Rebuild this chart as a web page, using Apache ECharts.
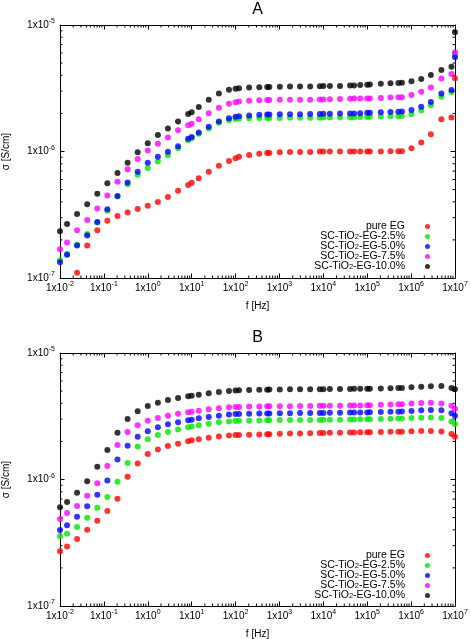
<!DOCTYPE html>
<html><head><meta charset="utf-8">
<script src="https://cdn.jsdelivr.net/npm/echarts@6/dist/echarts.min.js"></script>
<style>html,body{margin:0;padding:0;background:#fff}#c{width:471px;height:639px}</style>
</head><body><div id="c"></div>
<script>
// Frequencies (Hz), shared by all series in both panels
const FREQ = [0.01, 0.0145, 0.0245, 0.0417, 0.0708, 0.12, 0.204, 0.347, 0.589, 1, 1.7, 2.88, 4.9, 8.32, 10, 14.5, 24.5, 41.7, 70.8, 100, 120, 204, 347, 525, 589, 1020, 1740, 2950, 5010, 8320, 10000, 14100, 24000, 40700, 50100, 69200, 100000, 115000, 204000, 339000, 513000, 617000, 1.02e6, 1.7e6, 2.82e6, 4.9e6, 8.32e6, 1.0e7];

const SERIES_NAMES = ['pure EG', 'SC-TiO2-EG-2.5%', 'SC-TiO2-EG-5.0%', 'SC-TiO2-EG-7.5%', 'SC-TiO2-EG-10.0%'];
const SERIES_COLORS = ['#ff0000', '#00e600', '#0000ff', '#ff00ff', '#000000'];

// Panel A (sigma, S/cm)
const A_PURE = [null, null, 1.1e-7, 1.81e-7, 2.39e-7, 2.84e-7, 3.09e-7, 3.3e-7, 3.51e-7, 3.72e-7, 3.99e-7, 4.37e-7, 4.9e-7, 5.43e-7, 5.66e-7, 6.14e-7, 6.92e-7, 7.72e-7, 8.41e-7, 8.83e-7, 9.1e-7, 9.37e-7, 9.6e-7, 9.72e-7, 9.72e-7, 9.86e-7, 9.9e-7, 9.9e-7, 9.9e-7, 1.0e-6, 1.0e-6, 1.0e-6, 1.0e-6, 1.0e-6, 1.0e-6, 1.0e-6, 1.0e-6, 1.0e-6, 1.0e-6, 1.005e-6, 1.005e-6, 1.005e-6, 1.06e-6, 1.18e-6, 1.37e-6, 1.8e-6, 1.86e-6, 3.79e-6];
const A_25 = [1.38e-7, 1.55e-7, 1.83e-7, 2.23e-7, 2.75e-7, 3.4e-7, 4.4e-7, 5.5e-7, 6.55e-7, 7.41e-7, 8.35e-7, 9.33e-7, 1.06e-6, 1.23e-6, 1.27e-6, 1.38e-6, 1.52e-6, 1.69e-6, 1.77e-6, 1.81e-6, 1.82e-6, 1.83e-6, 1.84e-6, 1.84e-6, 1.84e-6, 1.84e-6, 1.85e-6, 1.85e-6, 1.85e-6, 1.85e-6, 1.86e-6, 1.86e-6, 1.86e-6, 1.86e-6, 1.86e-6, 1.87e-6, 1.87e-6, 1.88e-6, 1.89e-6, 1.9e-6, 1.9e-6, 1.91e-6, 1.97e-6, 2.11e-6, 2.32e-6, 2.71e-6, 2.95e-6, 5.8e-6];
const A_50 = [1.33e-7, 1.53e-7, 1.81e-7, 2.17e-7, 2.77e-7, 3.49e-7, 4.45e-7, 5.7e-7, 6.92e-7, 8.15e-7, 9.1e-7, 9.96e-7, 1.1e-6, 1.26e-6, 1.3e-6, 1.41e-6, 1.57e-6, 1.73e-6, 1.83e-6, 1.88e-6, 1.9e-6, 1.93e-6, 1.95e-6, 1.96e-6, 1.96e-6, 1.97e-6, 1.97e-6, 1.97e-6, 1.98e-6, 1.98e-6, 1.99e-6, 1.99e-6, 2.0e-6, 2.0e-6, 2.0e-6, 2.01e-6, 2.02e-6, 2.02e-6, 2.04e-6, 2.05e-6, 2.06e-6, 2.07e-6, 2.13e-6, 2.26e-6, 2.46e-6, 2.88e-6, 3.06e-6, 5.55e-6];
const A_75 = [1.69e-7, 1.91e-7, 2.38e-7, 2.87e-7, 3.55e-7, 4.48e-7, 5.77e-7, 7.23e-7, 8.72e-7, 1.02e-6, 1.15e-6, 1.29e-6, 1.47e-6, 1.61e-6, 1.66e-6, 1.8e-6, 2.01e-6, 2.22e-6, 2.39e-6, 2.45e-6, 2.48e-6, 2.52e-6, 2.54e-6, 2.55e-6, 2.55e-6, 2.56e-6, 2.56e-6, 2.57e-6, 2.57e-6, 2.58e-6, 2.58e-6, 2.59e-6, 2.6e-6, 2.61e-6, 2.62e-6, 2.62e-6, 2.63e-6, 2.63e-6, 2.65e-6, 2.67e-6, 2.68e-6, 2.69e-6, 2.8e-6, 2.97e-6, 3.21e-6, 3.77e-6, 4.1e-6, 6.08e-6];
const A_100 = [2.34e-7, 2.67e-7, 3.2e-7, 3.83e-7, 4.64e-7, 5.6e-7, 6.76e-7, 8.15e-7, 9.86e-7, 1.16e-6, 1.35e-6, 1.52e-6, 1.73e-6, 1.98e-6, 2.04e-6, 2.25e-6, 2.57e-6, 2.87e-6, 3.08e-6, 3.13e-6, 3.16e-6, 3.2e-6, 3.22e-6, 3.24e-6, 3.24e-6, 3.25e-6, 3.26e-6, 3.27e-6, 3.27e-6, 3.28e-6, 3.29e-6, 3.3e-6, 3.3e-6, 3.32e-6, 3.33e-6, 3.35e-6, 3.37e-6, 3.38e-6, 3.43e-6, 3.47e-6, 3.48e-6, 3.5e-6, 3.59e-6, 3.74e-6, 4.03e-6, 4.41e-6, 4.68e-6, 8.75e-6];

// Panel B (sigma, S/cm)
const B_PURE = [2.71e-7, 2.96e-7, 3.39e-7, 4.01e-7, 4.72e-7, 5.63e-7, 7.05e-7, 1.05e-6, 1.34e-6, 1.59e-6, 1.73e-6, 1.84e-6, 1.92e-6, 2.01e-6, 2.04e-6, 2.08e-6, 2.14e-6, 2.19e-6, 2.23e-6, 2.25e-6, 2.25e-6, 2.26e-6, 2.27e-6, 2.28e-6, 2.28e-6, 2.3e-6, 2.31e-6, 2.31e-6, 2.32e-6, 2.33e-6, 2.33e-6, 2.34e-6, 2.34e-6, 2.35e-6, 2.35e-6, 2.36e-6, 2.36e-6, 2.36e-6, 2.37e-6, 2.38e-6, 2.39e-6, 2.39e-6, 2.41e-6, 2.42e-6, 2.42e-6, 2.4e-6, 2.29e-6, 2.18e-6];
const B_25 = [3.56e-7, 3.73e-7, 4.22e-7, 4.99e-7, 5.98e-7, 7.28e-7, 9.62e-7, 1.35e-6, 1.82e-6, 2.08e-6, 2.25e-6, 2.37e-6, 2.49e-6, 2.59e-6, 2.62e-6, 2.68e-6, 2.76e-6, 2.83e-6, 2.88e-6, 2.9e-6, 2.91e-6, 2.92e-6, 2.93e-6, 2.94e-6, 2.94e-6, 2.95e-6, 2.95e-6, 2.96e-6, 2.96e-6, 2.96e-6, 2.97e-6, 2.97e-6, 2.97e-6, 2.98e-6, 2.98e-6, 2.99e-6, 2.99e-6, 3.0e-6, 3.01e-6, 3.02e-6, 3.03e-6, 3.04e-6, 3.06e-6, 3.08e-6, 3.09e-6, 3.06e-6, 2.88e-6, 2.75e-6];
const B_50 = [3.99e-7, 4.35e-7, 5.08e-7, 6.14e-7, 7.59e-7, 9.8e-7, 1.44e-6, 1.85e-6, 2.18e-6, 2.41e-6, 2.59e-6, 2.73e-6, 2.83e-6, 2.94e-6, 2.97e-6, 3.05e-6, 3.12e-6, 3.19e-6, 3.27e-6, 3.29e-6, 3.3e-6, 3.31e-6, 3.32e-6, 3.33e-6, 3.33e-6, 3.34e-6, 3.34e-6, 3.35e-6, 3.35e-6, 3.36e-6, 3.36e-6, 3.37e-6, 3.37e-6, 3.38e-6, 3.38e-6, 3.39e-6, 3.39e-6, 3.4e-6, 3.41e-6, 3.43e-6, 3.44e-6, 3.45e-6, 3.48e-6, 3.52e-6, 3.54e-6, 3.52e-6, 3.34e-6, 3.19e-6];
const B_75 = [4.88e-7, 5.43e-7, 6.18e-7, 7.45e-7, 9.33e-7, 1.28e-6, 1.87e-6, 2.37e-6, 2.68e-6, 2.92e-6, 3.06e-6, 3.19e-6, 3.31e-6, 3.4e-6, 3.44e-6, 3.5e-6, 3.59e-6, 3.65e-6, 3.72e-6, 3.74e-6, 3.75e-6, 3.77e-6, 3.78e-6, 3.79e-6, 3.79e-6, 3.8e-6, 3.8e-6, 3.81e-6, 3.81e-6, 3.82e-6, 3.82e-6, 3.83e-6, 3.83e-6, 3.84e-6, 3.84e-6, 3.85e-6, 3.86e-6, 3.86e-6, 3.89e-6, 3.91e-6, 3.93e-6, 3.94e-6, 3.98e-6, 4.03e-6, 4.05e-6, 3.99e-6, 3.82e-6, 3.63e-6];
const B_100 = [6.03e-7, 6.64e-7, 7.87e-7, 9.68e-7, 1.26e-6, 1.71e-6, 2.34e-6, 3.01e-6, 3.46e-6, 3.81e-6, 4.05e-6, 4.25e-6, 4.41e-6, 4.55e-6, 4.6e-6, 4.67e-6, 4.8e-6, 4.92e-6, 5.01e-6, 5.06e-6, 5.08e-6, 5.1e-6, 5.12e-6, 5.13e-6, 5.14e-6, 5.15e-6, 5.16e-6, 5.17e-6, 5.17e-6, 5.18e-6, 5.18e-6, 5.19e-6, 5.19e-6, 5.2e-6, 5.21e-6, 5.21e-6, 5.22e-6, 5.22e-6, 5.25e-6, 5.27e-6, 5.28e-6, 5.29e-6, 5.35e-6, 5.42e-6, 5.46e-6, 5.49e-6, 5.28e-6, 5.16e-6];

// Axis ranges and tick labels
const X_MIN = 0.01, X_MAX = 1e7;
const Y_MIN = 1e-7, Y_MAX = 1e-5;
const X_DECADES = [-2, -1, 0, 1, 2, 3, 4, 5, 6, 7];
const Y_DECADES = [-7, -6, -5];
const PANEL_TITLES = ['A', 'B'];
const X_NAME = 'f [Hz]';
const Y_NAME = 'σ [S/cm]';

const FONT = 'Liberation Sans, Arial, Helvetica, sans-serif';
const rich = {
  b: {fontSize: 10, lineHeight: 14, fontFamily: FONT, color: '#000'},
  s: {fontSize: 7, lineHeight: 8, verticalAlign: 'top', fontFamily: FONT, color: '#000'}
};
function expLabel(v) { return '{b|1x10}{s|' + Math.round(Math.log10(v)) + '}'; }

// minor tick values (2..9 x 10^k)
const MINOR_X = [], MINOR_Y = [];
for (let i = 0; i < X_DECADES.length - 1; i++) for (let m = 2; m <= 9; m++) MINOR_X.push(m * Math.pow(10, X_DECADES[i]));
for (let i = 0; i < Y_DECADES.length - 1; i++) for (let m = 2; m <= 9; m++) MINOR_Y.push(m * Math.pow(10, Y_DECADES[i]));

function xAxis(grid, pos, labels) {
  return {
    type: 'log', logBase: 10, gridIndex: grid, position: pos, min: X_MIN, max: X_MAX,
    axisLine: {show: true, onZero: false, lineStyle: {color: '#000', width: 1}},
    axisTick: {show: true, inside: true, length: 4.5, lineStyle: {color: '#000', width: 1}},
    splitLine: {show: false}, minorTick: {show: false},
    axisLabel: {show: labels, margin: 3, formatter: expLabel, rich: rich, showMinLabel: true, showMaxLabel: true},
    name: labels ? X_NAME : '', nameLocation: 'middle', nameGap: 23.5, nameMoveOverlap: false,
    nameTextStyle: {fontSize: 10, fontFamily: FONT, color: '#000'}
  };
}
function yAxis(grid, pos, labels) {
  return {
    type: 'log', logBase: 10, gridIndex: grid, position: pos, min: Y_MIN, max: Y_MAX,
    axisLine: {show: true, onZero: false, lineStyle: {color: '#000', width: 1}},
    axisTick: {show: true, inside: true, length: 4.5, lineStyle: {color: '#000', width: 1}},
    splitLine: {show: false}, minorTick: {show: false},
    axisLabel: {show: labels, margin: 5, formatter: expLabel, rich: rich, showMinLabel: true, showMaxLabel: true},
    name: labels ? Y_NAME : '', nameLocation: 'middle', nameGap: 49, nameMoveOverlap: false,
    nameTextStyle: {fontSize: 10, fontFamily: FONT, color: '#000'}
  };
}

function minorXRender(params, api) {
  const cs = params.coordSys;
  const x = api.coord([api.value(0), api.value(1)])[0];
  const b = cs.y + cs.height, t = cs.y;
  return {type: 'group', children: [
    {type: 'line', shape: {x1: x, y1: b, x2: x, y2: b - 2.5}, style: {stroke: '#000', lineWidth: 1}},
    {type: 'line', shape: {x1: x, y1: t, x2: x, y2: t + 2.5}, style: {stroke: '#000', lineWidth: 1}}
  ]};
}
function minorYRender(params, api) {
  const cs = params.coordSys;
  const y = api.coord([api.value(0), api.value(1)])[1];
  const l = cs.x, r = cs.x + cs.width;
  return {type: 'group', children: [
    {type: 'line', shape: {x1: l, y1: y, x2: l + 2.5, y2: y}, style: {stroke: '#000', lineWidth: 1}},
    {type: 'line', shape: {x1: r, y1: y, x2: r - 2.5, y2: y}, style: {stroke: '#000', lineWidth: 1}}
  ]};
}

const PANELS = [[A_PURE, A_25, A_50, A_75, A_100], [B_PURE, B_25, B_50, B_75, B_100]];
const series = [];
PANELS.forEach(function (arrs, p) {
  series.push({type: 'custom', name: '_mx' + p, xAxisIndex: 2 * p, yAxisIndex: 2 * p, silent: true,
    renderItem: minorXRender, data: MINOR_X.map(function (v) { return [v, 1e-6]; }), clip: false, z: 1});
  series.push({type: 'custom', name: '_my' + p, xAxisIndex: 2 * p, yAxisIndex: 2 * p, silent: true,
    renderItem: minorYRender, data: MINOR_Y.map(function (v) { return [1, v]; }), clip: false, z: 1});
  arrs.forEach(function (vals, i) {
    series.push({
      type: 'scatter', name: SERIES_NAMES[i], xAxisIndex: 2 * p, yAxisIndex: 2 * p,
      symbol: 'circle', symbolSize: 6, clip: false, z: 2,
      itemStyle: {color: SERIES_COLORS[i]},
      data: FREQ.map(function (f, k) { return vals[k] == null ? null : [f, vals[k]]; }).filter(function (d) { return d; })
    });
  });
});

function legendFmt(name) { return name.replace('TiO2', 'TiO{sub|2}'); }
function legend(top) {
  return {
    orient: 'vertical', right: 41, top: top, align: 'right', padding: 0,
    itemWidth: 35, itemHeight: 5, itemGap: -1, icon: 'circle', selectedMode: false,
    data: SERIES_NAMES, formatter: legendFmt,
    textStyle: {fontSize: 10.5, lineHeight: 9.5, fontFamily: FONT, color: '#000',
      rich: {sub: {fontSize: 7.5, lineHeight: 5, verticalAlign: 'bottom', fontFamily: FONT, color: '#000'}}}
  };
}

const option = {
  animation: false,
  backgroundColor: '#fff',
  title: PANEL_TITLES.map(function (t, i) {
    return {text: t, left: 257.5, top: i === 0 ? 2 : 330, textAlign: 'center', padding: 0,
      textStyle: {fontSize: 16, fontWeight: 'normal', fontFamily: FONT, color: '#000'}};
  }),
  grid: [
    {left: 60, top: 25, width: 395, height: 253, containLabel: false, outerBoundsMode: 'none'},
    {left: 60, top: 353, width: 395, height: 253, containLabel: false, outerBoundsMode: 'none'}
  ],
  legend: [legend(221), legend(550)],
  xAxis: [xAxis(0, 'bottom', true), xAxis(0, 'top', false), xAxis(1, 'bottom', true), xAxis(1, 'top', false)],
  yAxis: [yAxis(0, 'left', true), yAxis(0, 'right', false), yAxis(1, 'left', true), yAxis(1, 'right', false)],
  series: series
};

const chart = echarts.init(document.getElementById('c'), null, {renderer: 'canvas'});
chart.setOption(option);
</script>
</body></html>
